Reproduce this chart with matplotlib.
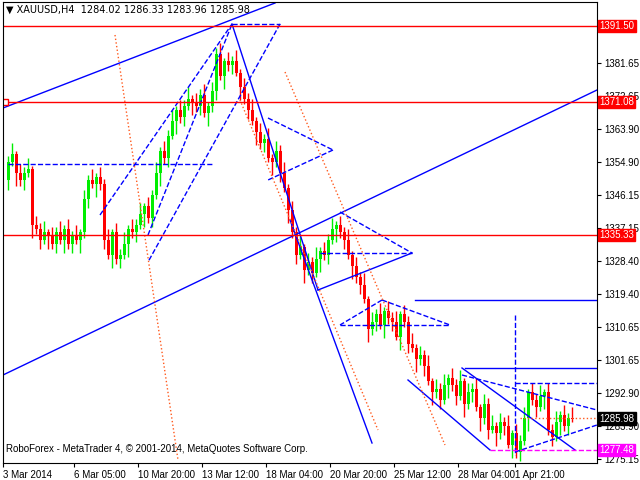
import matplotlib
matplotlib.use("Agg")
import matplotlib.pyplot as plt

plt.rcParams["font.family"] = ["Liberation Sans", "DejaVu Sans"]

# closes of the H4 candles
closes = [
    1355, 1357, 1352, 1350, 1352, 1353, 1338, 1337, 1334, 1336,
    1335, 1333, 1336, 1334, 1337, 1333, 1335, 1334, 1336, 1345,
    1350, 1349, 1351, 1349, 1334, 1330, 1336, 1329, 1330, 1333,
    1337, 1336, 1338, 1341, 1343, 1340, 1346, 1352, 1358, 1356,
    1362, 1366, 1369, 1367, 1370, 1372, 1371, 1370, 1373, 1368,
    1370, 1374, 1384, 1378, 1382, 1381, 1382, 1379, 1375, 1372,
    1369, 1366, 1363, 1360, 1361, 1356, 1355, 1358, 1352, 1348,
    1342, 1336, 1330, 1332, 1326, 1328, 1325, 1329, 1331, 1330,
    1334, 1337, 1338, 1336, 1334, 1330, 1327, 1324, 1322, 1318,
    1310, 1312, 1314, 1311, 1315, 1313, 1312, 1308, 1314, 1312,
    1306, 1305, 1302, 1303, 1300, 1296, 1293, 1294, 1291, 1295,
    1297, 1295, 1292, 1296, 1290, 1293, 1294, 1289, 1286, 1290,
    1283, 1284, 1282, 1285, 1284, 1279, 1282, 1277, 1280, 1286,
    1293, 1291, 1289, 1292, 1293, 1283, 1281, 1285, 1287, 1284,
    1286, 1285.98,
]
first_open = 1350
upper_wick = [1.5, 3.0, 1.0, 2.5]
lower_wick = [2.5, 1.0, 3.5, 1.5]

price_ticks = [1381.65, 1372.65, 1363.90, 1354.90, 1346.15, 1337.15, 1328.40,
               1319.40, 1310.65, 1301.65, 1292.90, 1283.90, 1275.15]
date_labels = ["3 Mar 2014", "6 Mar 05:00", "10 Mar 20:00", "13 Mar 12:00",
               "18 Mar 04:00", "20 Mar 20:00", "25 Mar 12:00", "28 Mar 04:00",
               "1 Apr 21:00"]
date_pos = [-1.2, 16.5, 32.5, 48.5, 64.5, 80.5, 96.5, 112.5, 126.8]

# price tags on the right axis: (price, box colour)
tags = [(1391.50, "red"), (1371.08, "red"), (1335.33, "red"),
        (1285.98, "black"), (1277.48, "magenta")]
red_levels = [1391.50, 1371.08, 1335.33]


def px(x):
    return (x - 8) / 4.0


def pr(y):
    return 1391.5 - (y - 26) / 3.72


# analysis lines in screen pixels: (x0, y0, x1, y1, colour, style)
segments = [
    (3, 108, 275, 3, "blue", "-"),
    (3, 375, 597, 90, "blue", "-"),
    (232, 24, 318, 290, "blue", "-"),
    (290, 220, 372, 443, "blue", "-"),
    (318, 290, 412, 253, "blue", "-"),
    (415, 300, 597, 300, "blue", "-"),
    (465, 368, 597, 368, "blue", "-"),
    (408, 380, 490, 450, "blue", "-"),
    (462, 368, 575, 450, "blue", "-"),
    (8, 164, 213, 164, "blue", "--"),
    (148, 235, 232, 24, "blue", "--"),
    (100, 215, 232, 24, "blue", "--"),
    (232, 24, 280, 24, "blue", "--"),
    (280, 24, 148, 262, "blue", "--"),
    (268, 118, 333, 150, "blue", "--"),
    (333, 150, 268, 180, "blue", "--"),
    (340, 212, 412, 253, "blue", "--"),
    (320, 253, 412, 253, "blue", "--"),
    (382, 300, 450, 325, "blue", "--"),
    (382, 300, 340, 325, "blue", "--"),
    (340, 325, 450, 325, "blue", "--"),
    (462, 375, 597, 410, "blue", "--"),
    (515, 383, 597, 383, "blue", "--"),
    (515, 452, 597, 425, "blue", "--"),
    (515, 315, 515, 455, "blue", "--"),
    (115, 35, 178, 460, "#ff5a1e", ":"),
    (285, 72, 445, 445, "#ff5a1e", ":"),
    (240, 100, 378, 430, "#ff5a1e", ":"),
    (520, 418, 597, 418, "#ff5a1e", ":"),
]

fig = plt.figure(figsize=(6.4, 4.8), dpi=100)
ax = fig.add_axes([3 / 640, 17 / 480, 594 / 640, 461 / 480])
ax.set_xlim(px(3), px(597))
ax.set_ylim(pr(463), pr(2))

opens = [first_open] + closes[:-1]
for i, (o, c) in enumerate(zip(opens, closes)):
    col = "#00ee00" if c >= o else "red"
    hi = max(o, c) + upper_wick[i % 4]
    lo = min(o, c) - lower_wick[i % 4]
    ax.vlines(i, lo, hi, color=col, lw=1)
    ax.bar(i, abs(c - o) if c != o else 0.3, bottom=min(o, c), width=0.75,
           color=col, linewidth=0)

for x0, y0, x1, y1, col, ls in segments:
    ax.plot([px(x0), px(x1)], [pr(y0), pr(y1)], color=col, ls=ls, lw=1)

for p in red_levels:
    ax.axhline(p, color="red", lw=1)
ax.plot([px(5)], [1371.08], "s", mfc="white", mec="red", ms=4)
ax.plot([px(490), px(597)], [1277.48, 1277.48], color="magenta", ls="--", lw=1)

ax.yaxis.tick_right()
ax.set_yticks(price_ticks)
ax.set_yticklabels([f"{v:.2f}" for v in price_ticks], fontsize=7)
ax.set_xticks(date_pos)
ax.set_xticklabels(date_labels, fontsize=7, ha="left")
ax.tick_params(length=3, pad=2)

for p, bg in tags:
    ax.text(1.004, p, f"{p:.2f}", transform=ax.get_yaxis_transform(),
            fontsize=7, color="white", va="center", ha="left", zorder=10,
            bbox=dict(boxstyle="square,pad=0.12", fc=bg, ec=bg))

ax.text(0.005, 0.995, "\u25bc XAUUSD,H4  1284.02 1286.33 1283.96 1285.98",
        transform=ax.transAxes, fontsize=7, va="top", ha="left",
        family=["DejaVu Sans"])
ax.text(0.005, 0.02,
        "RoboForex - MetaTrader 4, \u00a9 2001-2014, MetaQuotes Software Corp.",
        transform=ax.transAxes, fontsize=7, va="bottom", ha="left")

fig.savefig("out.png", dpi=100)
